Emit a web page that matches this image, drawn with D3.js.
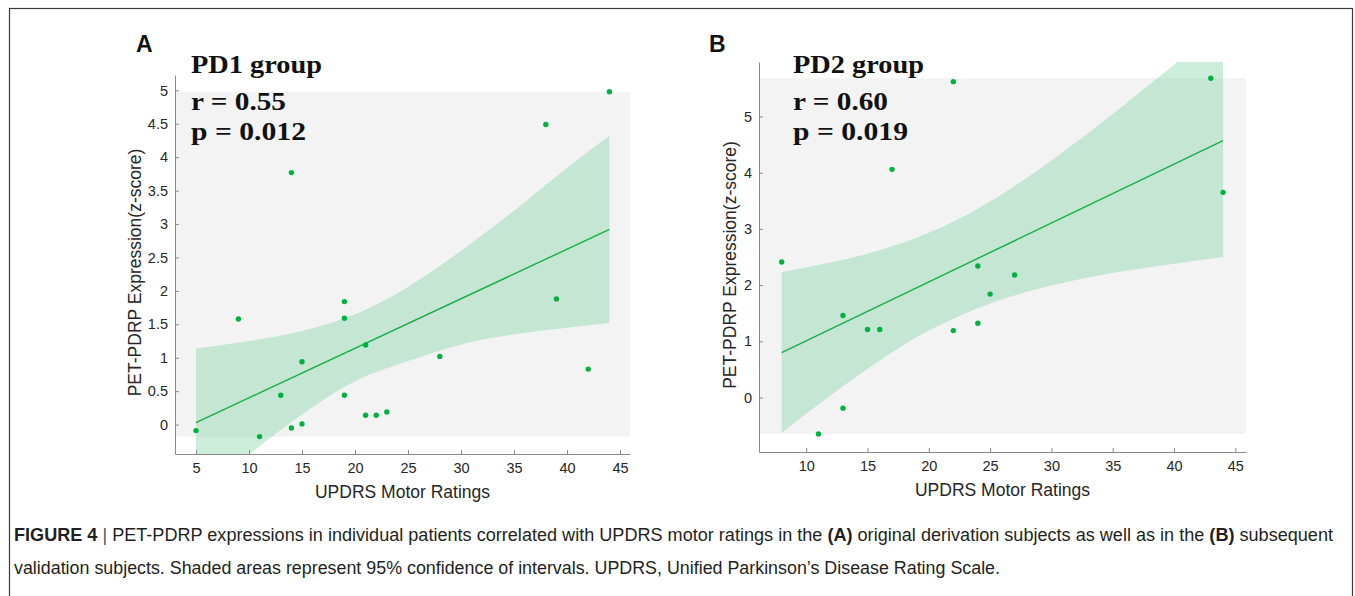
<!DOCTYPE html>
<html>
<head>
<meta charset="utf-8">
<script src="https://cdn.jsdelivr.net/npm/d3@7"></script>
<style>
  body { margin: 0; background: #fff; }
  svg { display: block; font-family: "Liberation Sans", Arial, sans-serif; }
</style>
</head>
<body>
<div id="chart"></div>
<script>
// PD1 group (panel A)
const pd1X = [5, 9, 11, 13, 14, 14, 15, 15, 19, 19, 19, 21, 21, 22, 23, 28, 38, 39, 42, 44];
const pd1Y = [-0.09, 1.58, -0.18, 0.44, -0.05, 3.77, 0.94, 0.01, 1.84, 1.59, 0.44, 1.19, 0.14, 0.14, 0.19, 1.02, 4.49, 1.88, 0.83, 4.98];
const pd1FitX = [5, 44];
const pd1FitY = [0.03, 2.92];
const pd1BandX = [5, 10, 15, 20, 25, 30, 35, 40, 44];
const pd1BandHi = [1.14, 1.25, 1.40, 1.65, 2.06, 2.60, 3.20, 3.84, 4.32];
const pd1BandLo = [-1.08, -0.45, 0.15, 0.65, 0.95, 1.20, 1.35, 1.45, 1.52];

// PD2 group (panel B)
const pd2X = [8, 11, 13, 13, 15, 16, 17, 22, 22, 24, 24, 25, 27, 43, 44];
const pd2Y = [2.41, -0.65, 1.46, -0.19, 1.21, 1.21, 4.06, 5.62, 1.19, 2.34, 1.32, 1.84, 2.18, 5.68, 3.65];
const pd2FitX = [8, 44];
const pd2FitY = [0.80, 4.57];
const pd2BandX = [8, 12, 16, 20, 24, 28, 32, 36, 40, 44];
const pd2BandHi = [2.23, 2.40, 2.62, 2.93, 3.36, 3.91, 4.54, 5.22, 5.92, 6.64];
const pd2BandLo = [-0.63, 0.04, 0.66, 1.19, 1.59, 1.88, 2.09, 2.25, 2.38, 2.50];

const pd1XTicks = [5, 10, 15, 20, 25, 30, 35, 40, 45];
const pd1YTicks = [0, 0.5, 1, 1.5, 2, 2.5, 3, 3.5, 4, 4.5, 5];
const pd2XTicks = [10, 15, 20, 25, 30, 35, 40, 45];
const pd2YTicks = [0, 1, 2, 3, 4, 5];

const width = 1355;
const height = 596;

const svg = d3.select("#chart")
  .append("svg")
  .attr("width", width)
  .attr("height", height)
  .attr("viewBox", `0 0 ${width} ${height}`);

// figure frame
svg.append("rect")
  .attr("x", 9.5).attr("y", 8.5)
  .attr("width", 1343).attr("height", 620)
  .attr("fill", "none")
  .attr("stroke", "#3a3a3a")
  .attr("stroke-width", 1.2);

const dotColor = "#00b140";
const lineColor = "#17ae47";

function drawPanel(cfg) {
  const x = d3.scaleLinear().domain(cfg.xDomain).range([cfg.left, cfg.right]);
  const y = d3.scaleLinear().domain(cfg.yDomain).range([cfg.bottom, cfg.top]);
  const g = svg.append("g");

  const clipId = `clip-${cfg.letter}`;
  svg.append("clipPath").attr("id", clipId)
    .append("rect")
    .attr("x", cfg.left).attr("y", cfg.top)
    .attr("width", cfg.right - cfg.left).attr("height", cfg.bottom - cfg.top);

  // grey data-range background
  const [yMin, yMax] = d3.extent(cfg.ys);
  g.append("rect")
    .attr("x", cfg.left)
    .attr("y", y(yMax))
    .attr("width", cfg.right - cfg.left)
    .attr("height", y(yMin) - y(yMax))
    .attr("fill", "#f3f3f3");

  // confidence band
  const band = cfg.bandX.map((v, i) => ({ x: v, lo: cfg.bandLo[i], hi: cfg.bandHi[i] }));
  g.append("path")
    .datum(band)
    .attr("clip-path", `url(#${clipId})`)
    .attr("fill", "rgb(140,214,172)")
    .attr("fill-opacity", 0.45)
    .attr("d", d3.area()
      .x((d) => x(d.x))
      .y0((d) => y(d.lo))
      .y1((d) => y(d.hi))
      .curve(d3.curveMonotoneX));

  // fitted line
  const fit = cfg.fitX.map((v, i) => [v, cfg.fitY[i]]);
  g.append("path")
    .datum(fit)
    .attr("fill", "none")
    .attr("stroke", lineColor)
    .attr("stroke-width", 1.4)
    .attr("d", d3.line().x((d) => x(d[0])).y((d) => y(d[1])));

  // points
  g.selectAll("circle.pt")
    .data(cfg.xs.map((v, i) => [v, cfg.ys[i]]))
    .join("circle")
    .attr("class", "pt")
    .attr("cx", (d) => x(d[0]))
    .attr("cy", (d) => y(d[1]))
    .attr("r", 2.7)
    .attr("fill", dotColor);

  // axes (MATLAB style, ticks inward)
  const xAxis = g.append("g")
    .attr("transform", `translate(0,${cfg.bottom})`)
    .call(d3.axisBottom(x).tickValues(cfg.xTicks).tickSize(-4).tickSizeOuter(0).tickPadding(9));
  const yAxis = g.append("g")
    .attr("transform", `translate(${cfg.left},0)`)
    .call(d3.axisLeft(y).tickValues(cfg.yTicks).tickSize(-4).tickSizeOuter(0).tickPadding(7).tickFormat((d) => `${d}`));
  [xAxis, yAxis].forEach((a) => {
    a.select(".domain").attr("stroke", "#8a8a8a");
    a.selectAll(".tick line").attr("stroke", "#8a8a8a");
    a.selectAll(".tick text")
      .attr("fill", "#262626")
      .style("font-size", "14.5px")
      .style("font-family", "'Liberation Sans', Arial, sans-serif");
  });

  // axis titles
  g.append("text")
    .attr("x", (cfg.left + cfg.right) / 2)
    .attr("y", cfg.bottom + 44)
    .attr("text-anchor", "middle")
    .attr("fill", "#262626")
    .style("font-size", "17.5px")
    .text("UPDRS Motor Ratings");
  g.append("text")
    .attr("transform", `translate(${cfg.left - cfg.yLabelGap},${(cfg.top + cfg.bottom) / 2 + 8}) rotate(-90)`)
    .attr("text-anchor", "middle")
    .attr("fill", "#262626")
    .style("font-size", "17.5px")
    .text("PET-PDRP Expression(z-score)");

  // panel letter
  svg.append("text")
    .attr("x", cfg.letterX).attr("y", 52)
    .attr("fill", "#111")
    .style("font-size", "23px")
    .style("font-weight", "bold")
    .text(cfg.letter);

  // group / stats text
  const serif = "'Liberation Serif', 'Times New Roman', serif";
  cfg.notes.forEach((n) => {
    svg.append("text")
      .attr("x", cfg.noteX).attr("y", n.y)
      .attr("fill", "#111")
      .attr("textLength", n.w)
      .attr("lengthAdjust", "spacingAndGlyphs")
      .style("font-family", serif)
      .style("font-size", "26px")
      .style("font-weight", "600")
      .text(n.text);
  });
}

drawPanel({
  letter: "A", letterX: 136,
  xs: pd1X, ys: pd1Y, fitX: pd1FitX, fitY: pd1FitY,
  bandX: pd1BandX, bandHi: pd1BandHi, bandLo: pd1BandLo,
  xDomain: [3.02, 45.94], yDomain: [-0.44, 5.23],
  left: 175, right: 630, top: 75, bottom: 454,
  xTicks: pd1XTicks, yTicks: pd1YTicks, yLabelGap: 34,
  noteX: 191,
  notes: [
    { text: "PD1 group", y: 73, w: 131 },
    { text: "r = 0.55", y: 110, w: 95 },
    { text: "p = 0.012", y: 140, w: 115 }
  ]
});

drawPanel({
  letter: "B", letterX: 709,
  xs: pd2X, ys: pd2Y, fitX: pd2FitX, fitY: pd2FitY,
  bandX: pd2BandX, bandHi: pd2BandHi, bandLo: pd2BandLo,
  xDomain: [6.15, 45.87], yDomain: [-0.97, 5.97],
  left: 759, right: 1246, top: 62, bottom: 452,
  xTicks: pd2XTicks, yTicks: pd2YTicks, yLabelGap: 23,
  noteX: 793,
  notes: [
    { text: "PD2 group", y: 73, w: 131 },
    { text: "r = 0.60", y: 110, w: 95 },
    { text: "p = 0.019", y: 140, w: 115 }
  ]
});

// caption
const cap = svg.append("g")
  .attr("fill", "#231f20")
  .style("font-size", "17.5px");
const line1 = cap.append("text").attr("x", 14).attr("y", 541)
  .attr("textLength", 1319).attr("lengthAdjust", "spacingAndGlyphs");
line1.append("tspan").style("font-weight", "bold").text("FIGURE 4");
line1.append("tspan").attr("fill", "#555").text("  |  ");
line1.append("tspan").text("PET-PDRP expressions in individual patients correlated with UPDRS motor ratings in the ");
line1.append("tspan").style("font-weight", "bold").text("(A)");
line1.append("tspan").text(" original derivation subjects as well as in the ");
line1.append("tspan").style("font-weight", "bold").text("(B)");
line1.append("tspan").text(" subsequent");
cap.append("text").attr("x", 14).attr("y", 574)
  .attr("textLength", 986).attr("lengthAdjust", "spacingAndGlyphs")
  .text("validation subjects. Shaded areas represent 95% confidence of intervals. UPDRS, Unified Parkinson\u2019s Disease Rating Scale.");
</script>
</body>
</html>
